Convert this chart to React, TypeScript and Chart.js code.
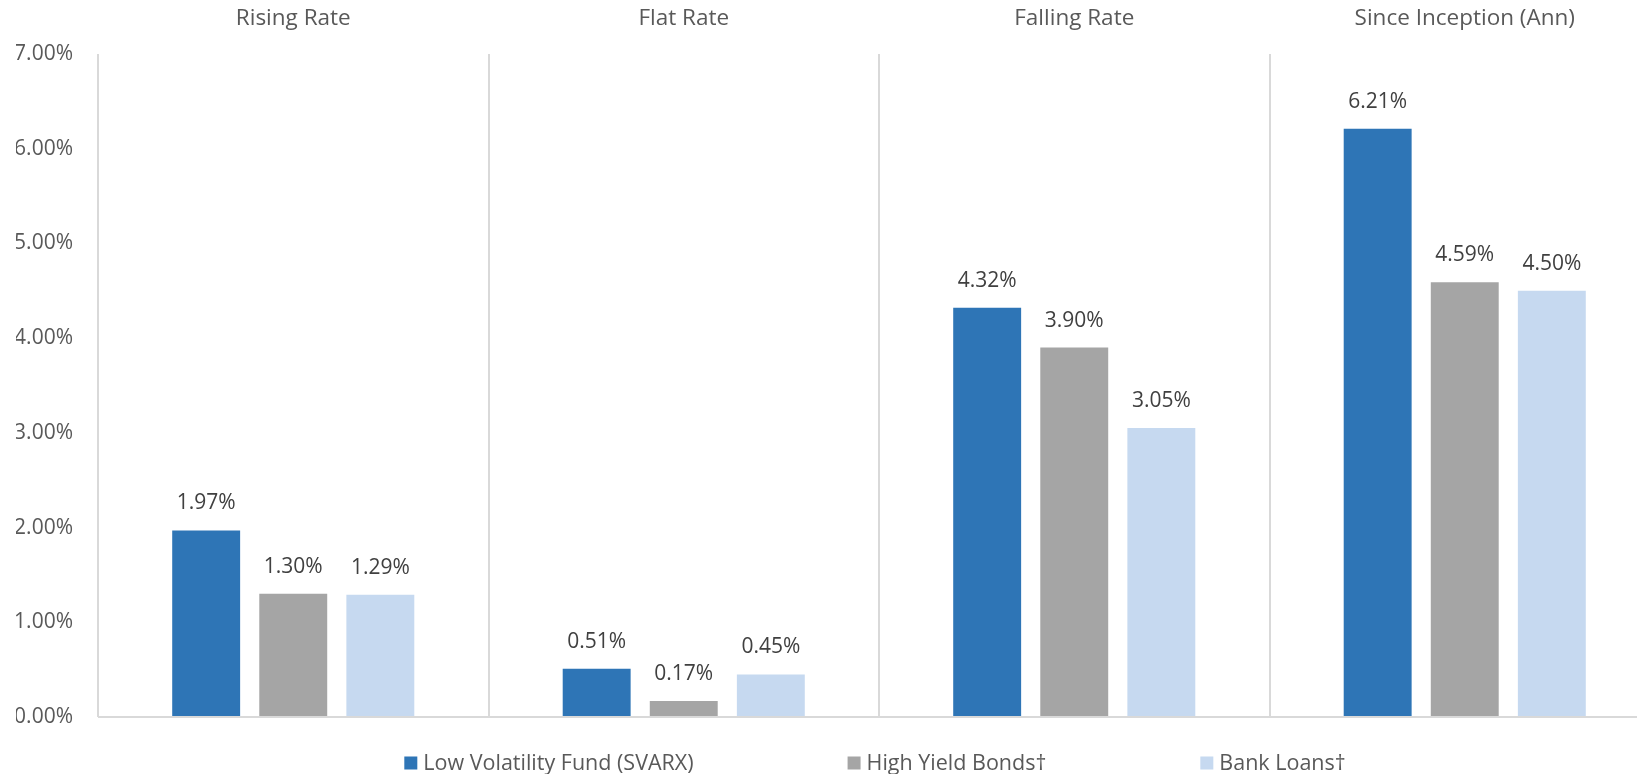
import React, { useEffect, useRef } from "react";
import { Chart, registerables } from "chart.js";

Chart.register(...registerables);

const categories = ["Rising Rate", "Flat Rate", "Falling Rate", "Since Inception (Ann)"];
const seriesNames = ["Low Volatility Fund (SVARX)", "High Yield Bonds†", "Bank Loans†"];
const lowVolFund = [1.97, 0.51, 4.32, 6.21];
const highYieldBonds = [1.3, 0.17, 3.9, 4.59];
const bankLoans = [1.29, 0.45, 3.05, 4.5];
const seriesColors = ["#2E75B6", "#A5A5A5", "#C6D9F0"];
const yTicks = [0, 1, 2, 3, 4, 5, 6, 7];

const FONT = "'Open Sans', sans-serif";

const dataLabelPlugin = {
  id: "dataLabels",
  afterDatasetsDraw(chart: any) {
    const ctx = chart.ctx;
    ctx.save();
    ctx.font = `21px ${FONT}`;
    ctx.fillStyle = "#404040";
    ctx.textAlign = "center";
    ctx.textBaseline = "middle";
    chart.data.datasets.forEach((ds: any, i: number) => {
      const meta = chart.getDatasetMeta(i);
      meta.data.forEach((bar: any, j: number) => {
        const v = ds.data[j] as number;
        ctx.fillText(v.toFixed(2) + "%", bar.x, bar.y - 27);
      });
    });
    ctx.restore();
  },
};

const legendPlugin = {
  id: "customLegend",
  afterDraw(chart: any) {
    const ctx = chart.ctx;
    ctx.save();
    ctx.font = `21.5px ${FONT}`;
    const box = 13;
    const boxGap = 6;
    const itemGap = 154;
    const widths = seriesNames.map((n) => ctx.measureText(n).width);
    const total =
      widths.reduce((a: number, w: number) => a + box + boxGap + w, 0) + itemGap * (seriesNames.length - 1);
    const center = (chart.chartArea.left + chart.chartArea.right) / 2 - 4;
    let x = center - total / 2;
    const yc = 764;
    ctx.textBaseline = "middle";
    ctx.textAlign = "left";
    seriesNames.forEach((n, i) => {
      ctx.fillStyle = seriesColors[i];
      ctx.fillRect(x, yc - box / 2 - 1, box, box);
      ctx.fillStyle = "#595959";
      ctx.fillText(n, x + box + boxGap, yc);
      x += box + boxGap + widths[i] + itemGap;
    });
    ctx.restore();
  },
};

export default function App() {
  const ref = useRef<HTMLCanvasElement>(null);
  useEffect(() => {
    if (!ref.current) return;
    const seriesData = [lowVolFund, highYieldBonds, bankLoans];
    const chart = new Chart(ref.current, {
      type: "bar",
      data: {
        labels: categories,
        datasets: seriesNames.map((name, i) => ({
          label: name,
          data: seriesData[i],
          backgroundColor: seriesColors[i],
          borderWidth: 0,
          categoryPercentage: 0.669,
          barPercentage: 0.78,
        })),
      },
      options: {
        responsive: false,
        animation: false,
        devicePixelRatio: 1,
        layout: { padding: { left: 16, top: 6, right: 0, bottom: 57 } },
        plugins: {
          legend: { display: false },
          tooltip: { enabled: false },
        },
        scales: {
          x: {
            position: "top",
            offset: true,
            grid: { offset: true, color: "#D9D9D9", lineWidth: 2, drawTicks: false },
            border: { display: false },
            ticks: { color: "#595959", font: { family: FONT, size: 22.5 }, padding: 22, maxRotation: 0 },
            afterFit: (axis: any) => {
              axis.height = 48;
            },
          },
          y: {
            min: 0,
            max: 7,
            afterBuildTicks: (axis: any) => {
              axis.ticks = yTicks.map((v) => ({ value: v }));
            },
            grid: {
              drawTicks: false,
              lineWidth: 2,
              color: (c: any) => (c.tick && c.tick.value === 0 ? "#D9D9D9" : "rgba(0,0,0,0)"),
            },
            border: { display: false },
            ticks: {
              color: "#595959",
              font: { family: FONT, size: 21 },
              padding: 25,
              callback: (v: any) => Number(v).toFixed(2) + "%",
            },
            afterFit: (axis: any) => {
              axis.width = 82;
            },
          },
        },
      },
      plugins: [dataLabelPlugin, legendPlugin],
    });
    return () => chart.destroy();
  }, []);
  return (
    <div style={{ position: "fixed", left: 0, top: 0, width: 1637, height: 774, overflow: "hidden", background: "#fff" }}>
      <canvas ref={ref} width={1660} height={774} style={{ display: "block", width: 1660, height: 774 }} />
    </div>
  );
}
